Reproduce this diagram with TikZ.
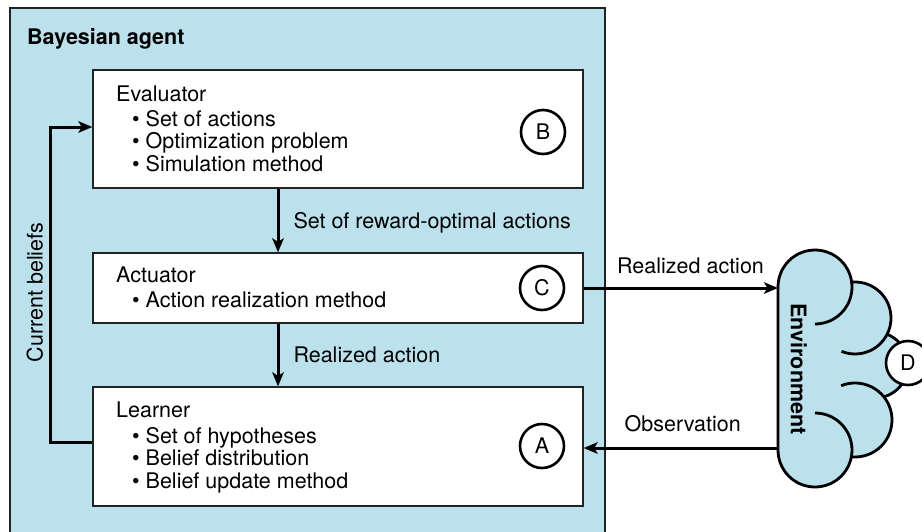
\documentclass[tikz,border=0pt]{standalone}
\usepackage{fontspec}
\setmainfont{TeX Gyre Heros}
\usetikzlibrary{arrows.meta}

\definecolor{agentblue}{RGB}{186,225,236}
\definecolor{edgegray}{RGB}{35,35,35}
\newcommand{\diagsize}{\fontsize{21.5}{22.5}\selectfont}
\newcommand{\bul}{\hspace*{16pt}• }

\tikzset{
  module/.style={draw=edgegray, fill=white, line width=1.3pt, minimum width=490pt, inner sep=0pt},
  moduletext/.style={anchor=north west, align=left, inner sep=0pt},
  tag/.style={circle, draw, fill=white, line width=2.6pt, minimum size=44pt, inner sep=0pt},
  flow/.style={line width=3pt, -{Stealth[length=14pt,width=11.5pt,inset=3.5pt]}},
  lbl/.style={inner sep=0pt, text depth=0pt},
  cloudline/.style={line width=2.8pt}
}

\begin{document}
\begin{tikzpicture}[x=1pt, y=-1pt, font=\diagsize]
    \useasboundingbox (0,0) rectangle (922,531);

    % agent frame
    \draw [draw=edgegray, fill=agentblue, line width=1.3pt] (10,8) rectangle (605,540);
    \node [anchor=base west, inner sep=0pt, font=\diagsize\bfseries] (agenttitle) at (27,44) {Bayesian agent};

    % modules
    \node [module, minimum height=118pt] (evaluator) at (338,129) {};
    \node [module, minimum height=70pt] (actuator) at (338,288) {};
    \node [module, minimum height=119pt] (learner) at (338,446.5) {};
    \node [moduletext] (evaltext) at (116,85.5) {Evaluator\\[2.5pt]%
        \bul Set of actions\\%
        \bul Optimization problem\\%
        \bul Simulation method};
    \node [moduletext] (acttext) at (116,266.5) {Actuator\\[2.5pt]%
        \bul Action realization method};
    \node [moduletext] (learntext) at (116,401.5) {Learner\\[3.5pt]%
        \bul Set of hypotheses\\%
        \bul Belief distribution\\%
        \bul Belief update method};
    \node [tag] (tagB) at (543,132) {B};
    \node [tag] (tagC) at (542,288) {C};
    \node [tag] (tagA) at (542,446) {A};

    % inner flow
    \coordinate (spine) at (278,0);
    \draw [flow] (evaluator.south -| spine) -- node [midway, right=14pt, lbl] (optlbl) {Set of reward-optimal actions} (actuator.north -| spine);
    \draw [flow] (actuator.south -| spine) -- node [midway, right=14pt, lbl] (reallbl) {Realized action} (learner.north -| spine);
    \coordinate (loopbot) at (50,442);
    \coordinate (looptop) at (50,127);
    \draw [flow] (learner.west |- loopbot) -- (loopbot) -- (looptop) -- (evaluator.west |- looptop);
    \node [rotate=90, lbl] (beliefslbl) at (34.5,292.5) {Current beliefs};

    % environment cloud
    \fill [agentblue] (778,287) rectangle (855,450);
    \fill [agentblue] (815,287) circle [radius=37];
    \fill [agentblue] (855,318) circle [radius=36];
    \fill [agentblue] (875,365) circle [radius=33];
    \fill [agentblue] (855,420) circle [radius=37];
    \fill [agentblue] (815,450) circle [radius=37];
    \draw [cloudline] (815,413) arc [start angle=270, end angle=540, radius=37] -- (778,287) arc [start angle=180, end angle=450, radius=37];
    \draw [cloudline] (855,318) ++(263:36) arc [start angle=263, end angle=472, radius=36];
    \draw [cloudline] (875,365) ++(-68:33) arc [start angle=-68, end angle=74, radius=33];
    \draw [cloudline] (855,420) ++(248:37) arc [start angle=248, end angle=455, radius=37];
    \node [rotate=-90, lbl, font=\diagsize\bfseries] (envlbl) at (799,369) {Environment};
    \node [tag] (tagD) at (908,363) {D};

    % agent <-> environment
    \coordinate (envin) at (778,288);
    \coordinate (envout) at (778,448);
    \draw [flow] (actuator.east) -- node [pos=0.55, above=13pt, lbl] (actlbl) {Realized action} (envin);
    \draw [flow] (envout) -- node [pos=0.49, above=15pt, lbl] (obslbl) {Observation} (learner.east |- envout);
\end{tikzpicture}
\end{document}
